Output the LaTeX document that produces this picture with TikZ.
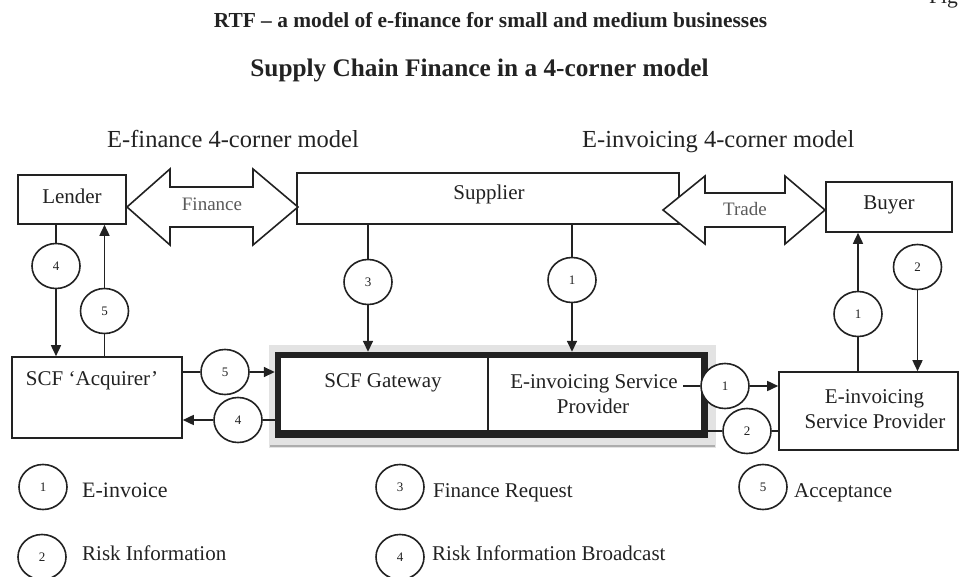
\documentclass[tikz,border=0pt]{standalone}
\usepackage{fontspec}
\setmainfont{Liberation Serif}
\usetikzlibrary{arrows.meta,shapes.geometric}
\definecolor{ink}{HTML}{222222}
\definecolor{soft}{HTML}{5A5A5A}
\definecolor{halo}{gray}{0.89}
\definecolor{haloedge}{gray}{0.68}
\newcommand{\setfs}[2]{\fontsize{#1}{#2}\selectfont}
\begin{document}
\begin{tikzpicture}[x=1pt,y=-1pt,
  box/.style={draw=ink, line width=1.6pt, fill=white, inner sep=0pt},
  num/.style={draw=ink, line width=1.6pt, fill=white, ellipse, minimum width=48pt,
              minimum height=45pt, inner sep=0pt, font=\setfs{13}{15}, text=ink},
  flow/.style={draw=ink, line width=1.6pt},
  tip/.style={-{Triangle[length=11pt,width=10pt]}},
  txt/.style={font=\setfs{21}{25}, text=ink, inner sep=0pt},
  legend/.style={font=\setfs{21}{25}, text=ink, inner sep=0pt, anchor=base west},
  bigarrow/.style={draw=ink, line width=1.6pt, fill=white, line join=miter},
  arrowtext/.style={font=\setfs{19}{23}, text=soft, inner sep=0pt, anchor=base},
]
\useasboundingbox (0,0) rectangle (960,577);

% titles
\node[anchor=base west, font=\setfs{21.5}{25}, text=ink, inner sep=0pt] (fig) at (929,4) {Fig};
\node[anchor=base, font=\bfseries\setfs{21.4}{25}, text=ink, inner sep=0pt] (title) at (490.5,28)
  {RTF – a model of e-finance for small and medium businesses};
\node[anchor=base, font=\bfseries\setfs{25.3}{30}, text=ink, inner sep=0pt] (subtitle) at (479.5,77)
  {Supply Chain Finance in a 4-corner model};
\node[anchor=base west, font=\setfs{24.5}{29}, text=ink, inner sep=0pt] (hfin) at (107,148)
  {E-finance 4-corner model};
\node[anchor=base west, font=\setfs{24.5}{29}, text=ink, inner sep=0pt] (hinv) at (582,148)
  {E-invoicing 4-corner model};

% top row of parties
\node[box, minimum width=108pt, minimum height=49pt] (lender) at (72,199.5) {};
\node[txt, anchor=base] (lendertxt) at (72,204) {Lender};
\node[box, minimum width=382pt, minimum height=51pt] (sup) at (488,198.5) {};
\node[txt, anchor=base] (suptxt) at (489,200) {Supplier};
\node[box, minimum width=126pt, minimum height=50pt] (buyer) at (889,207) {};
\node[txt, anchor=base] (buyertxt) at (889,210) {Buyer};

% double arrows between the parties
\draw[bigarrow] (127,207) -- (170,169) -- (170,187) -- (253,187) -- (253,169) -- (298,207)
  -- (253,245) -- (253,227) -- (170,227) -- (170,245) -- cycle;
\node[arrowtext] (fintxt) at (212,211) {Finance};
\draw[bigarrow] (663,210) -- (705,176) -- (705,193) -- (785,193) -- (785,176) -- (825,210)
  -- (785,244) -- (785,227) -- (705,227) -- (705,244) -- cycle;
\node[arrowtext] (tradetxt) at (745,216) {Trade};

% lower row
\node[box, minimum width=170pt, minimum height=81pt] (acq) at (97,397.5) {};
\node[txt, anchor=base] (acqtxt) at (92,385) {SCF ‘Acquirer’};

\fill[halo] (269,345) rectangle (716,448);
\draw[haloedge, line width=2pt] (270,446) -- (715,446);
\node[fill=ink, inner sep=0pt, minimum width=433pt, minimum height=86pt] (gw) at (491.5,395) {};
\node[fill=white, inner sep=0pt, minimum width=420pt, minimum height=72pt] (gwin) at (491,394) {};
\draw[ink, line width=1.6pt] (488,358) -- (488,430);
\node[txt, anchor=base] (gwtxt) at (383,387) {SCF Gateway};
\node[txt, anchor=base] (gwesp1) at (594,388) {E-invoicing Service};
\node[txt, anchor=base] (gwesp2) at (593,413) {Provider};

\node[box, minimum width=179pt, minimum height=78pt] (esp) at (868.5,411) {};
\node[txt, anchor=base] (esptxt1) at (874.5,403) {E-invoicing};
\node[txt, anchor=base] (esptxt2) at (875,428) {Service Provider};

% numbered message markers
\node[num] (c4L) at (56,266) {4};
\node[num] (c5L) at (104.5,311) {5};
\node[num] (c5H) at (225,372) {5};
\node[num] (c4H) at (238,420) {4};
\node[num] (c3) at (368,282) {3};
\node[num] (c1M) at (572,280) {1};
\node[num] (c1R) at (858,314) {1};
\node[num] (c2R) at (917.5,267) {2};
\node[num] (c1H) at (725,386) {1};
\node[num] (c2H) at (747,431) {2};

% message flows
\draw[flow] (c4L |- lender.south) -- (c4L.north);
\draw[flow,tip] (c4L.south) -- (c4L |- acq.north);
\draw[flow] (c5L |- acq.north) -- (c5L.south);
\draw[flow,tip] (c5L.north) -- (c5L |- lender.south);
\draw[flow] (c5H -| acq.east) -- (c5H.west);
\draw[flow,tip] (c5H.east) -- (c5H -| gw.west);
\draw[flow] (c4H -| gw.west) -- (c4H.east);
\draw[flow,tip] (c4H.west) -- (c4H -| acq.east);
\draw[flow] (c3 |- sup.south) -- (c3.north);
\draw[flow,tip] (c3.south) -- (c3 |- gw.north);
\draw[flow] (c1M |- sup.south) -- (c1M.north);
\draw[flow,tip] (c1M.south) -- (c1M |- gw.north);
\draw[flow] (c1R |- esp.north) -- (c1R.south);
\draw[flow,tip] (c1R.north) -- (c1R |- buyer.south);
\draw[flow,tip] (c2R.south) -- (c2R |- esp.north);
\coordinate (svcend) at (683,386);
\draw[flow] (svcend) -- (c1H.west);
\draw[flow,tip] (c1H.east) -- (c1H -| esp.west);
\draw[flow] (c2H -| gw.east) -- (c2H.west);
\draw[flow] (c2H.east) -- (c2H -| esp.west);

% key
\node[num] (k1) at (43,487) {1};
\node[legend, font=\setfs{22}{26}] (k1txt) at (82,497) {E-invoice};
\node[num] (k3) at (400,487) {3};
\node[legend] (k3txt) at (433,497) {Finance Request};
\node[num] (k5) at (763,487) {5};
\node[legend] (k5txt) at (794,497) {Acceptance};
\node[num] (k2) at (42,557) {2};
\node[legend] (k2txt) at (82,560) {Risk Information};
\node[num] (k4) at (400,557) {4};
\node[legend] (k4txt) at (432,560) {Risk Information Broadcast};
\end{tikzpicture}
\end{document}
